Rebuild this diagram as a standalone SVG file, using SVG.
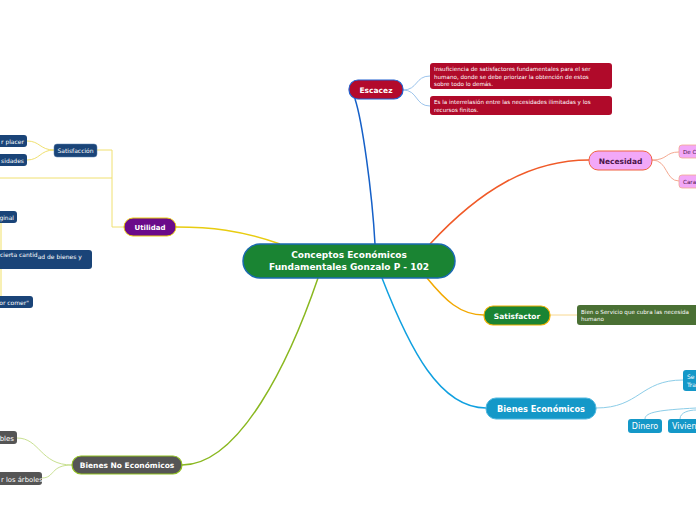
<svg xmlns="http://www.w3.org/2000/svg" width="696" height="520" viewBox="0 0 696 520">
<style>
.t{font-family:"DejaVu Sans","Liberation Sans",sans-serif;font-weight:bold;fill:#fff}
.s{font-family:"DejaVu Sans","Liberation Sans",sans-serif;fill:#fff;font-size:5.6px}
.sn{font-family:"DejaVu Sans","Liberation Sans",sans-serif;fill:#fff;font-size:6px}
.c{fill:none}
</style>
<rect width="696" height="520" fill="#fff"/>
<g id="connectors" class="c">
<path d="M375,244 C372,190 362,120 355,99" stroke="#1560c8" stroke-width="1.5"/>
<path d="M403,90 C418,90 415,76 430,76 M403,90 C418,90 415,106 430,106" stroke="#9cc4ec" stroke-width="1"/>
<path d="M430,244 C480,190 530,160 589,160" stroke="#f05a28" stroke-width="1.5"/>
<path d="M652,160 C668,160 665,152 679,152 M652,160 C668,160 665,181 679,181" stroke="#f4a890" stroke-width="1"/>
<path d="M427,278 C445,300 460,315 484,315" stroke="#f2a800" stroke-width="1.5"/>
<path d="M550,315 L577,315" stroke="#f8d890" stroke-width="1"/>
<path d="M382,278 C410,350 440,408 486,408" stroke="#10a0e0" stroke-width="1.5"/>
<path d="M596,408 C640,408 640,380 683,380" stroke="#8ccde8" stroke-width="1"/>
<path d="M645,419 C645,412 660,410 696,408 M680,419 C680,412 690,410 696,410" stroke="#8ccde8" stroke-width="1"/>
<path d="M280,244 C240,230 210,227 176,227" stroke="#e8cc10" stroke-width="1.5"/>
<path d="M124,227 L112,227 L112,150 L97,150 M112,178 L0,178" stroke="#f0e070" stroke-width="1"/>
<path d="M54,150 C40,150 40,141 27,141 M54,150 C40,150 40,160 27,160" stroke="#f0e070" stroke-width="1"/>
<path d="M1,223 L1,250 M1,269 L1,296" stroke="#f6ec9c" stroke-width="1.5"/>
<path d="M318,278 C290,360 240,465 182,465" stroke="#8ab820" stroke-width="1.5"/>
<path d="M72,465 C40,465 40,438 17,438 M72,465 C50,465 55,478 42,478" stroke="#c8e090" stroke-width="1"/>
</g>
<g id="central">
<rect x="243" y="244" width="212" height="34" rx="17" fill="#1a8433" stroke="#1a6ab0" stroke-width="1.5"/>
<text class="t" font-size="9" x="349" y="258" text-anchor="middle">Conceptos Económicos</text>
<text class="t" font-size="9" x="349" y="270" text-anchor="middle">Fundamentales Gonzalo P - 102</text>
</g>
<g id="escacez">
<rect x="349" y="80" width="54" height="19" rx="9" fill="#b30a2c" stroke="#2060d0" stroke-width="1.2"/>
<text class="t" font-size="7.5" x="376" y="92.5" text-anchor="middle">Escacez</text>
</g>
<g id="escacez-1">
<rect x="430" y="63" width="182" height="26" rx="3" fill="#b00a2a"/>
<text class="s" x="434" y="71">Insuficiencia de satisfactores fundamentales para el ser</text>
<text class="s" x="434" y="78.5">humano, donde se debe priorizar la obtención de estos</text>
<text class="s" x="434" y="86">sobre todo lo demás.</text>
</g>
<g id="escacez-2">
<rect x="430" y="96" width="182" height="19" rx="3" fill="#b00a2a"/>
<text class="s" x="434" y="104">Es la interrelasión entre las necesidades ilimitadas y los</text>
<text class="s" x="434" y="111.5">recursos finitos.</text>
</g>
<g id="necesidad">
<rect x="589" y="151" width="63" height="19" rx="9" fill="#f2a8f8" stroke="#f06040" stroke-width="1"/>
<text class="t" font-size="7.5" x="620.5" y="163.5" text-anchor="middle" style="fill:#4a1448">Necesidad</text>
</g>
<g id="necesidad-1">
<rect x="679" y="145" width="30" height="13" rx="3" fill="#f2a8f8" stroke="#f4a890" stroke-width="0.8"/>
<text class="s" x="683" y="154" style="fill:#4a1448">De C</text>
</g>
<g id="necesidad-2">
<rect x="679" y="175" width="30" height="13" rx="3" fill="#f2a8f8" stroke="#f4a890" stroke-width="0.8"/>
<text class="s" x="683" y="184" style="fill:#4a1448">Cara</text>
</g>
<g id="satisfactor">
<rect x="484" y="306" width="66" height="19" rx="9" fill="#1a8433" stroke="#f0b000" stroke-width="1.2"/>
<text class="t" font-size="7.5" x="517" y="318.5" text-anchor="middle">Satisfactor</text>
</g>
<g id="satisfactor-1">
<rect x="577" y="305" width="130" height="20" rx="3" fill="#4a7034"/>
<text class="s" x="581" y="313.5">Bien o Servicio que cubra las necesida</text>
<text class="s" x="581" y="321">humano</text>
</g>
<g id="bienes-economicos">
<rect x="486" y="398" width="110" height="21" rx="10" fill="#1498c8" stroke="#50b8e0" stroke-width="1"/>
<text class="t" font-size="8.2" x="541" y="411.5" text-anchor="middle">Bienes Económicos</text>
</g>
<g id="be-1">
<rect x="683" y="370" width="30" height="21" rx="3" fill="#1498c8"/>
<text class="sn" x="687" y="379">Se</text>
<text class="sn" x="687" y="387">Tra</text>
</g>
<g id="be-dinero">
<rect x="628" y="419" width="34" height="14" rx="3" fill="#1498c8"/>
<text class="t" style="font-weight:normal" font-size="8" x="645" y="429" text-anchor="middle">Dinero</text>
</g>
<g id="be-vivienda">
<rect x="668" y="419" width="40" height="14" rx="3" fill="#1498c8"/>
<text class="t" style="font-weight:normal" font-size="8" x="672" y="429">Vivien</text>
</g>
<g id="utilidad">
<rect x="124" y="218" width="52" height="18" rx="9" fill="#6a0a8a" stroke="#e8cc10" stroke-width="1"/>
<text class="t" font-size="7" x="150" y="229.5" text-anchor="middle">Utilidad</text>
</g>
<g id="satisfaccion">
<rect x="54" y="144" width="43" height="13" rx="3" fill="#1a4478" stroke="#5a80b0" stroke-width="0.5"/>
<text class="sn" x="75.5" y="152.5" text-anchor="middle">Satisfacción</text>
</g>
<g id="sat-1">
<rect x="-10" y="135" width="37" height="12" rx="3" fill="#1a4478"/>
<text class="sn" x="24" y="143.5" text-anchor="end">r placer</text>
</g>
<g id="sat-2">
<rect x="-10" y="154" width="37" height="12" rx="3" fill="#1a4478"/>
<text class="sn" x="24" y="162.5" text-anchor="end">sidades</text>
</g>
<g id="ut-1">
<rect x="-10" y="211" width="27" height="12" rx="3" fill="#1a4478"/>
<text class="sn" x="14" y="219.5" text-anchor="end">ginal</text>
</g>
<g id="ut-2">
<rect x="-10" y="250" width="102" height="19" rx="3" fill="#1a4478"/>
<text class="sn" x="0" y="257">cierta cantid<tspan dy="1.5">ad de bienes y</tspan></text>
</g>
<g id="ut-3">
<rect x="-10" y="296" width="43" height="12" rx="3" fill="#1a4478"/>
<text class="sn" x="29" y="304.5" text-anchor="end">or comer"</text>
</g>
<g id="bienes-no-economicos">
<rect x="72" y="456" width="110" height="18" rx="9" fill="#555" stroke="#90c020" stroke-width="1.2"/>
<text class="t" font-size="7.5" x="127" y="467.5" text-anchor="middle">Bienes No Económicos</text>
</g>
<g id="bne-1">
<rect x="-10" y="431" width="27" height="13" rx="3" fill="#555"/>
<text class="t" style="font-weight:normal" font-size="7" x="14" y="440.5" text-anchor="end">bles</text>
</g>
<g id="bne-2">
<rect x="-10" y="472" width="52" height="13" rx="3" fill="#555"/>
<text class="t" style="font-weight:normal" font-size="6.8" x="1" y="481.5">r los árboles</text>
</g>
</svg>
